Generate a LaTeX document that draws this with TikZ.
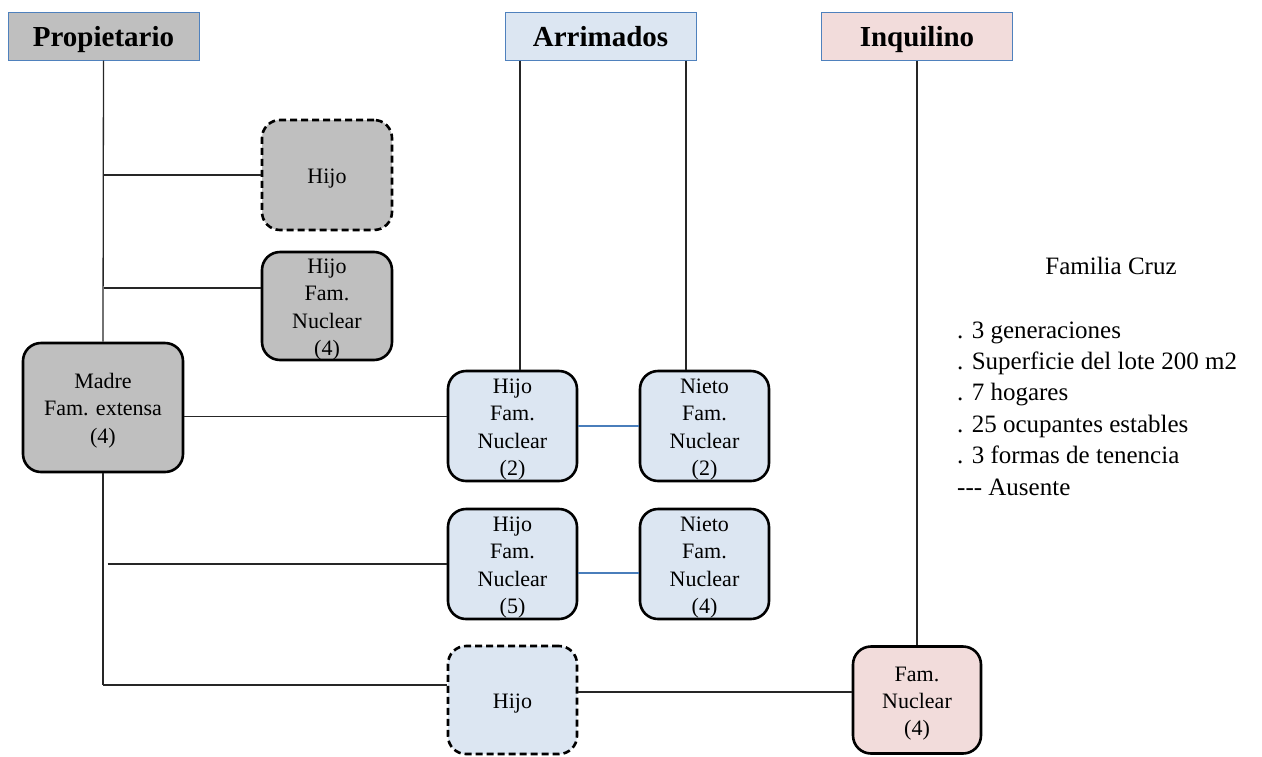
\documentclass[tikz,border=0pt]{standalone}
\usepackage{fontspec}
\setmainfont{Liberation Serif}
\definecolor{hdrblue}{RGB}{79,129,189}
\definecolor{tieblue}{RGB}{74,126,187}
\definecolor{owngray}{RGB}{191,191,191}
\definecolor{lodgeblue}{RGB}{220,230,242}
\definecolor{rentpink}{RGB}{242,220,219}
% taller first line, so each box's text sits slightly low
\newcommand{\famstrut}{\rule{0pt}{21.5pt}}
\begin{document}
\begin{tikzpicture}[x=1pt,y=-1pt,
  header/.style={draw=hdrblue, line width=1pt, minimum width=191pt, minimum height=48pt,
    inner sep=0pt, text depth=0pt, font=\fontsize{29}{34}\selectfont\bfseries},
  famnode/.style={draw=black, line width=2.6pt, rounded corners=18pt, align=center,
    inner xsep=0pt, inner ysep=-2pt, font=\fontsize{22}{27.2}\selectfont},
  ghost/.style={famnode, dash pattern=on 7pt off 4pt},
  link/.style={line width=1.3pt, draw=black!85},
  tie/.style={line width=1.3pt, draw=tieblue}]
\useasboundingbox (0,0) rectangle (1262,756);

% tenure headers
\node[header, fill=owngray]   (prop) at (103.5,36) {Propietario};
\node[header, fill=lodgeblue] (arr)  at (600.5,36) {Arrimados};
\node[header, fill=rentpink]  (inq)  at (917,36)   {Inquilino};

% owner branch
\node[ghost, fill=owngray, minimum width=130pt, minimum height=110pt] (hijoA) at (327,175) {\famstrut Hijo};
\node[famnode, fill=owngray, minimum width=130pt, minimum height=108pt] (hijoB) at (327,306) {\famstrut Hijo\\Fam.\\Nuclear\\(4)};
\node[famnode, fill=owngray, minimum width=160pt, minimum height=129pt] (madre) at (103,407.5) {\famstrut Madre\\Fam. extensa\\(4)};

% lodgers
\node[famnode, fill=lodgeblue, minimum width=129pt, minimum height=110pt] (hijo2)  at (512.5,426) {\famstrut Hijo\\Fam.\\Nuclear\\(2)};
\node[famnode, fill=lodgeblue, minimum width=129pt, minimum height=110pt] (nieto2) at (704.5,426) {\famstrut Nieto\\Fam.\\Nuclear\\(2)};
\node[famnode, fill=lodgeblue, minimum width=129pt, minimum height=110pt] (hijo5)  at (512.5,564) {\famstrut Hijo\\Fam.\\Nuclear\\(5)};
\node[famnode, fill=lodgeblue, minimum width=129pt, minimum height=110pt] (nieto4) at (704.5,564) {\famstrut Nieto\\Fam.\\Nuclear\\(4)};
\node[ghost, fill=lodgeblue, minimum width=129pt, minimum height=108pt] (hijoC) at (512.5,700) {\famstrut Hijo};

% tenant
\node[famnode, fill=rentpink, minimum width=128pt, minimum height=107pt] (famnuc) at (917,700) {\famstrut Fam.\\Nuclear\\(4)};

% owner trunk
\coordinate (trunkend) at (103,685);
\draw[link] (prop.south) -- (madre.north);
\draw[link] (madre.south) -- (trunkend);
\draw[link] (prop.south |- hijoA.west) -- (hijoA.west);
\draw[link] ([yshift=18pt]hijoB.west -| prop.south) -- ([yshift=18pt]hijoB.west);
\draw[link] ([yshift=-9pt]madre.east) -- ([yshift=-9pt]madre.east -| hijo2.west);
\draw[link] ([xshift=4pt]prop.south |- hijo5.west) -- (hijo5.west);
\draw[link] (trunkend) -- (trunkend -| hijoC.west);
\draw[link] ([yshift=8pt]hijoC.east) -- ([yshift=8pt]hijoC.east -| famnuc.west);

% lodger and tenant stems
\draw[link] ([xshift=7.5pt]hijo2.north |- arr.south) -- ([xshift=7.5pt]hijo2.north);
\draw[link] ([xshift=-18.5pt]nieto2.north |- arr.south) -- ([xshift=-18.5pt]nieto2.north);
\draw[link] (inq.south) -- (famnuc.north);

% generation ties
\draw[tie] (hijo2.east) -- (nieto2.west);
\draw[tie] ([yshift=-9pt]hijo5.east) -- ([yshift=-9pt]hijo5.east -| nieto4.west);

% summary
\node[font=\fontsize{25}{30}\selectfont] (titulo) at (1111,266) {Familia Cruz};
\node[anchor=west, align=left, inner sep=0pt, font=\fontsize{25}{31.4}\selectfont] (resumen) at (957,408.5)
  {. 3 generaciones\\. Superficie del lote 200 m2\\. 7 hogares\\. 25 ocupantes estables\\. 3 formas de tenencia\\-\kern0pt-\kern0pt- Ausente};
\end{tikzpicture}
\end{document}
